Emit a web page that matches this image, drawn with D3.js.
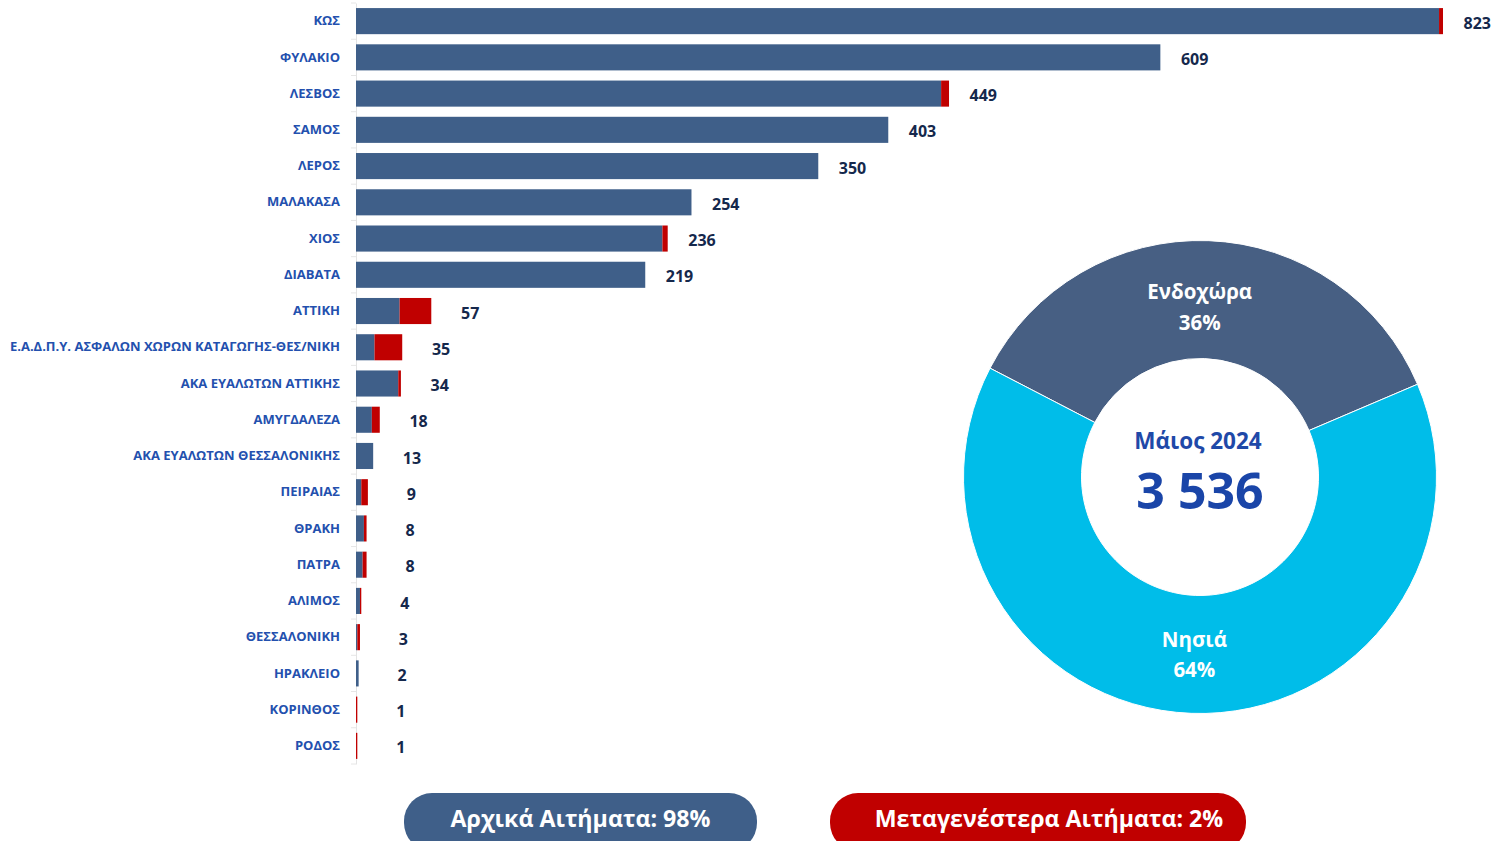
<!DOCTYPE html>
<html>
<head>
<meta charset="UTF-8">
<title>Αιτήματα Μάιος 2024</title>
<style>
    body { margin: 0; background: #fff; }
    svg { display: block; font-family: "Open Sans", sans-serif; }
    .cat text { font-family: "Open Sans", sans-serif; font-size: 13px; font-weight: 700; fill: #2350ae; }
    .val { font-size: 16px; font-weight: 700; fill: #15284c; }
</style>
</head>
<body>
<svg width="1494" height="841"></svg>
<script src="https://cdnjs.cloudflare.com/ajax/libs/d3/7.8.5/d3.min.js"></script>
<script>

    var categories = ["ΚΩΣ", "ΦΥΛΑΚΙΟ", "ΛΕΣΒΟΣ", "ΣΑΜΟΣ", "ΛΕΡΟΣ", "ΜΑΛΑΚΑΣΑ", "ΧΙΟΣ", "ΔΙΑΒΑΤΑ",
        "ΑΤΤΙΚΗ", "Ε.Α.Δ.Π.Υ. ΑΣΦΑΛΩΝ ΧΩΡΩΝ ΚΑΤΑΓΩΓΗΣ-ΘΕΣ/ΝΙΚΗ", "ΑΚΑ ΕΥΑΛΩΤΩΝ ΑΤΤΙΚΗΣ", "ΑΜΥΓΔΑΛΕΖΑ",
        "ΑΚΑ ΕΥΑΛΩΤΩΝ ΘΕΣΣΑΛΟΝΙΚΗΣ", "ΠΕΙΡΑΙΑΣ", "ΘΡΑΚΗ", "ΠΑΤΡΑ", "ΑΛΙΜΟΣ", "ΘΕΣΣΑΛΟΝΙΚΗ",
        "ΗΡΑΚΛΕΙΟ", "ΚΟΡΙΝΘΟΣ", "ΡΟΔΟΣ"];
    // αρχικά αιτήματα
    var initial = [820, 609, 443, 403, 350, 254, 232, 219, 33, 14, 32, 12, 13, 4, 6, 5, 3, 1, 2, 0, 0];
    // μεταγενέστερα αιτήματα
    var later = [3, 0, 6, 0, 0, 0, 4, 0, 24, 21, 2, 6, 0, 5, 2, 3, 1, 2, 0, 1, 1];

    var donutLabels = ["Ενδοχώρα", "Νησιά"];
    var donutValues = [1272, 2264];
    var period = "Μάιος 2024";

    var blue = "#3f5f89", red = "#c00000";

    var svg = d3.select("svg");

    var rows = categories.map(function(c, i) {
        return { name: c, a: initial[i], b: later[i], total: initial[i] + later[i] };
    });

    var x = d3.scaleLinear()
        .domain([0, d3.max(rows, function(d) { return d.total; })])
        .range([356, 1443]);

    var y = d3.scaleBand()
        .domain(categories)
        .range([3, 764])
        .paddingInner(0.28)
        .paddingOuter(0.14);

    // category axis
    var axis = svg.append("g")
        .attr("class", "cat")
        .attr("transform", "translate(" + x(0) + ",0)")
        .call(d3.axisLeft(y).tickSize(0).tickPadding(16));
    axis.attr("font-family", null).attr("font-size", null);
    axis.select(".domain").attr("stroke", "#e3e3e3");

    // small separators between categories
    var step = y.step();
    svg.append("g").selectAll("line")
        .data(categories.concat(["end"]))
        .enter().append("line")
        .attr("x1", x(0) - 5).attr("x2", x(0))
        .attr("y1", function(d, i) { return y(categories[0]) - y.paddingInner() * step / 2 + i * step; })
        .attr("y2", function(d, i) { return y(categories[0]) - y.paddingInner() * step / 2 + i * step; })
        .attr("stroke", "#e6e6e6");

    var bars = svg.append("g");
    bars.selectAll("rect.a")
        .data(rows)
        .enter().append("rect")
        .attr("class", "a")
        .attr("x", x(0))
        .attr("y", function(d) { return y(d.name); })
        .attr("height", y.bandwidth())
        .attr("width", function(d) { return x(d.a) - x(0); })
        .attr("fill", blue);

    bars.selectAll("rect.b")
        .data(rows)
        .enter().append("rect")
        .attr("class", "b")
        .attr("x", function(d) { return x(d.a); })
        .attr("y", function(d) { return y(d.name); })
        .attr("height", y.bandwidth())
        .attr("width", function(d) { return x(d.total) - x(d.a); })
        .attr("fill", red);

    svg.append("g").selectAll("text")
        .data(rows)
        .enter().append("text")
        .attr("class", "val")
        .attr("x", function(d) { return x(d.total) + 48; })
        .attr("y", function(d) { return y(d.name) + y.bandwidth() / 2 + 2; })
        .attr("dy", "0.35em")
        .attr("text-anchor", "end")
        .text(function(d) { return d.total; });

    // donut
    var cx = 1200, cy = 477;
    var pie = d3.pie().sort(null)
        .startAngle(-62.6 * Math.PI / 180)
        .endAngle(-62.6 * Math.PI / 180 + 2 * Math.PI);
    var arc = d3.arc().innerRadius(118.5).outerRadius(236.5);
    var sumD = d3.sum(donutValues);
    var slices = pie(donutValues);

    var dg = svg.append("g").attr("transform", "translate(" + cx + "," + cy + ")");
    dg.selectAll("path")
        .data(slices)
        .enter().append("path")
        .attr("d", arc)
        .attr("fill", function(d, i) { return ["#475f83", "#00bde9"][i]; })
        .attr("stroke", "#fff")
        .attr("stroke-width", 1);

    var lab = dg.selectAll("text.sl")
        .data(slices)
        .enter().append("text")
        .attr("class", "sl")
        .attr("text-anchor", "middle")
        .attr("fill", "#fff")
        .attr("font-size", 20.5)
        .attr("font-weight", 700)
        .attr("transform", function(d) {
            var c = arc.centroid(d);
            return "translate(" + (c[0] * 0.4 - 3) + "," + (c[1] * 0.98 + 1) + ")";
        });
    lab.append("tspan").attr("x", 0).attr("dy", "-0.25em")
        .text(function(d, i) { return donutLabels[i]; });
    lab.append("tspan").attr("x", 0).attr("dy", "1.5em")
        .text(function(d) { return Math.round(d.value / sumD * 100) + "%"; });

    var fmt = d3.formatLocale({ decimal: ",", thousands: " ", grouping: [3], currency: ["", "€"] }).format(",");
    dg.append("text")
        .attr("text-anchor", "middle")
        .attr("x", -2)
        .attr("y", -28)
        .attr("fill", "#1f49a8")
        .attr("font-size", 22.5)
        .attr("font-weight", 700)
        .text(period);
    dg.append("text")
        .attr("text-anchor", "middle")
        .attr("y", 32)
        .attr("fill", "#1a45a8")
        .attr("font-size", 50)
        .attr("font-weight", 700)
        .text(fmt(d3.sum(rows, function(d) { return d.total; })));

    // summary pills
    var totalAll = d3.sum(rows, function(d) { return d.total; });
    var pctA = Math.round(d3.sum(initial) / totalAll * 100);
    var pctB = Math.round(d3.sum(later) / totalAll * 100);
    var pills = [
        { text: "Αρχικά Αιτήματα: " + pctA + "%", x: 404, w: 353, shift: 0, color: blue },
        { text: "Μεταγενέστερα Αιτήματα: " + pctB + "%", x: 830, w: 416, shift: 11, color: red }
    ];
    var pg = svg.append("g").selectAll("g")
        .data(pills)
        .enter().append("g");
    pg.append("rect")
        .attr("x", function(d) { return d.x; })
        .attr("y", 793)
        .attr("width", function(d) { return d.w; })
        .attr("height", 58)
        .attr("rx", 28)
        .attr("fill", function(d) { return d.color; });
    pg.append("text")
        .attr("x", function(d) { return d.x + d.w / 2 + d.shift; })
        .attr("y", 819)
        .attr("dy", "0.35em")
        .attr("text-anchor", "middle")
        .attr("fill", "#fff")
        .attr("font-size", 23.2)
        .attr("font-weight", 700)
        .text(function(d) { return d.text; });

</script>
</body>
</html>
